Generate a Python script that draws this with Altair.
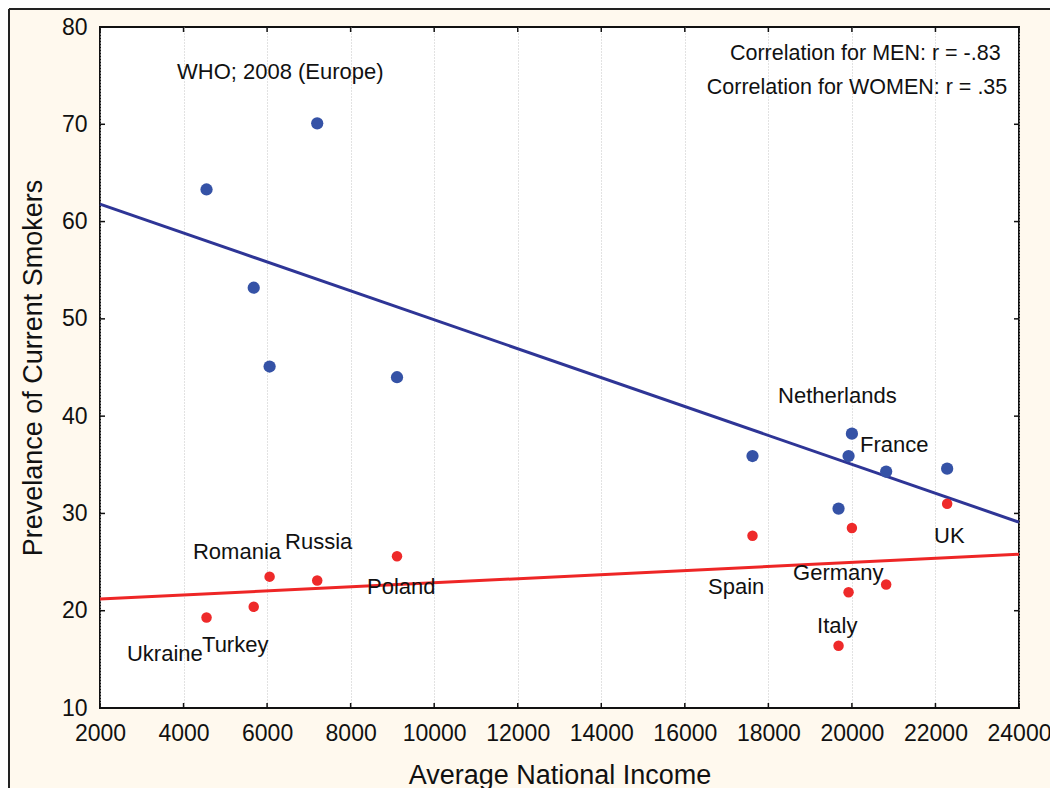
import altair as alt
import pandas as pd

# ---- data ----
countries = ["Ukraine", "Turkey", "Romania", "Russia", "Poland", "Spain",
             "Italy", "Germany", "Netherlands", "France", "UK"]
income = [4550, 5680, 6060, 7200, 9110, 17620, 19680, 19920, 20000, 20820, 22280]
men = [63.3, 53.2, 45.1, 70.1, 44.0, 35.9, 30.5, 35.9, 38.2, 34.3, 34.6]
women = [19.3, 20.4, 23.5, 23.1, 25.6, 27.7, 16.4, 21.9, 28.5, 22.7, 31.0]

fit_x = [2000, 24000]
men_fit = [61.8, 29.1]
women_fit = [21.2, 25.8]

label_text = ["Ukraine", "Turkey", "Romania", "Russia", "Poland", "Spain",
              "Germany", "Italy", "UK", "France", "Netherlands"]
label_x = [2646, 4442, 4226, 6429, 8392, 16556, 18591, 19165, 21966, 20195, 18232]
label_y = [15.6, 16.5, 26.0, 27.1, 22.4, 22.4, 23.85, 18.45, 27.7, 37.0, 42.1]

note_left = ["WHO; 2008 (Europe)"]
note_left_x = [3843]
note_left_y = [75.4]

note_right = ["Correlation for MEN: r = -.83", "Correlation for WOMEN: r = .35"]
note_right_x = [23560, 23720]
note_right_y = [77.2, 73.7]

x_ticks = list(range(2000, 24001, 2000))
y_ticks = list(range(10, 81, 10))

W, H = 919, 681
FONT = "Liberation Sans"
BLUE_PT = "#3552A6"
BLUE_LN = "#2E3596"
RED_PT = "#EE2A2A"
RED_LN = "#EE2626"

pts = pd.DataFrame({"country": countries, "income": income, "men": men, "women": women})
fits = pd.DataFrame({"x": fit_x, "men": men_fit, "women": women_fit})
labels = pd.DataFrame({"t": label_text, "x": label_x, "y": label_y})
nl = pd.DataFrame({"t": note_left, "x": note_left_x, "y": note_left_y})
nr = pd.DataFrame({"t": note_right, "x": note_right_x, "y": note_right_y})
xt = pd.DataFrame({"v": x_ticks})
yt = pd.DataFrame({"v": y_ticks})

xscale = alt.Scale(domain=[2000, 24000], nice=False, zero=False)
yscale = alt.Scale(domain=[10, 80], nice=False, zero=False)

xaxis = alt.Axis(values=x_ticks, format="d", title="Average National Income",
                 grid=True, gridColor="#c4c4c4", gridDash=[1, 2], gridWidth=1,
                 ticks=False, domain=False, labelFont=FONT, labelFontSize=23,
                 labelColor="#111", labelPadding=14, labelFlush=False,
                 titleFont=FONT, titleFontSize=27, titleFontWeight="normal",
                 titleColor="#111", titlePadding=17)
yaxis = alt.Axis(values=y_ticks, title="Prevelance of Current Smokers",
                 grid=False, ticks=False, domain=False, labelFont=FONT,
                 labelFontSize=23, labelColor="#111", labelPadding=13,
                 titleFont=FONT, titleFontSize=27, titleFontWeight="normal",
                 titleColor="#111", titlePadding=14)

base = alt.Chart(pts)

men_pts = base.mark_circle(size=150, opacity=1, color=BLUE_PT).encode(
    x=alt.X("income:Q", scale=xscale, axis=xaxis),
    y=alt.Y("men:Q", scale=yscale, axis=yaxis),
)
women_pts = base.mark_circle(size=110, opacity=1, color=RED_PT).encode(
    x=alt.X("income:Q", scale=xscale),
    y=alt.Y("women:Q", scale=yscale),
)
men_line = alt.Chart(fits).mark_line(color=BLUE_LN, strokeWidth=3).encode(
    x=alt.X("x:Q", scale=xscale), y=alt.Y("men:Q", scale=yscale))
women_line = alt.Chart(fits).mark_line(color=RED_LN, strokeWidth=3).encode(
    x=alt.X("x:Q", scale=xscale), y=alt.Y("women:Q", scale=yscale))

lab = alt.Chart(labels).mark_text(align="left", baseline="middle", font=FONT,
                                  fontSize=22, color="#111").encode(
    x=alt.X("x:Q", scale=xscale), y=alt.Y("y:Q", scale=yscale), text="t:N")
nleft = alt.Chart(nl).mark_text(align="left", baseline="middle", font=FONT,
                                fontSize=22, color="#111").encode(
    x=alt.X("x:Q", scale=xscale), y=alt.Y("y:Q", scale=yscale), text="t:N")
nright = alt.Chart(nr).mark_text(align="right", baseline="middle", font=FONT,
                                 fontSize=21.5, color="#111").encode(
    x=alt.X("x:Q", scale=xscale), y=alt.Y("y:Q", scale=yscale), text="t:N")

# inward ticks on all four sides
tk = 5
top_ticks = alt.Chart(xt).mark_rule(color="#111", strokeWidth=1.5).encode(
    x=alt.X("v:Q", scale=xscale), y=alt.value(0), y2=alt.value(tk))
bot_ticks = alt.Chart(xt).mark_rule(color="#111", strokeWidth=1.5).encode(
    x=alt.X("v:Q", scale=xscale), y=alt.value(H - tk), y2=alt.value(H))
left_ticks = alt.Chart(yt).mark_rule(color="#111", strokeWidth=1.5).encode(
    y=alt.Y("v:Q", scale=yscale), x=alt.value(0), x2=alt.value(tk))
right_ticks = alt.Chart(yt).mark_rule(color="#111", strokeWidth=1.5).encode(
    y=alt.Y("v:Q", scale=yscale), x=alt.value(W - tk), x2=alt.value(W))

# outer frame (top and left edges of the picture)
frame_top = alt.Chart(xt.head(1)).mark_rule(color="#222", strokeWidth=2).encode(
    x=alt.value(-91), x2=alt.value(W + 40), y=alt.value(-18))
frame_left = alt.Chart(xt.head(1)).mark_rule(color="#222", strokeWidth=2).encode(
    x=alt.value(-91), y=alt.value(-18), y2=alt.value(H + 90))

chart = alt.layer(
    men_line, women_line, men_pts, women_pts, lab, nleft, nright,
    top_ticks, bot_ticks, left_ticks, right_ticks, frame_top, frame_left,
).properties(
    width=W, height=H,
    autosize=alt.AutoSizeParams(type="none"),
    padding={"left": 92, "right": 31, "top": 19, "bottom": 80},
    background="#FFF9EE",
).configure_view(
    stroke="#111", strokeWidth=2, fill="white"
)

chart.save("out.html", embed_options={"renderer": "svg", "actions": False})
